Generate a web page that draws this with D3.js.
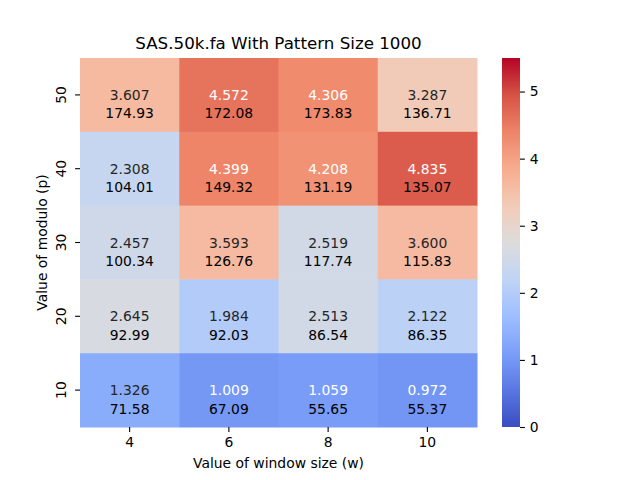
<!DOCTYPE html>
<html>
<head>
<meta charset="utf-8">
<script src="https://cdn.jsdelivr.net/npm/d3@7"></script>
<style>
  body { margin: 0; background: #fff; }
  text { font-family: "DejaVu Sans", sans-serif; }
</style>
</head>
<body>
<div id="chart"></div>
<script>
// data, rows top to bottom
var windowSizes = ["4", "6", "8", "10"];
var moduloValues = ["50", "40", "30", "20", "10"];
var ratioValues = [
    [3.607, 4.572, 4.306, 3.287],
    [2.308, 4.399, 4.208, 4.835],
    [2.457, 3.593, 2.519, 3.600],
    [2.645, 1.984, 2.513, 2.122],
    [1.326, 1.009, 1.059, 0.972]
];
var timeValues = [
    [174.93, 172.08, 173.83, 136.71],
    [104.01, 149.32, 131.19, 135.07],
    [100.34, 126.76, 117.74, 115.83],
    [92.99, 92.03, 86.54, 86.35],
    [71.58, 67.09, 55.65, 55.37]
];
var colorTicks = [0, 1, 2, 3, 4, 5];

var margin = {top: 58, left: 80},
    width = 397,
    height = 369;

var svg = d3.select("#chart").append("svg")
    .attr("width", 640)
    .attr("height", 480);

var g = svg.append("g")
    .attr("transform", "translate(" + margin.left + "," + margin.top + ")");

//coolwarm approximation
var coolwarm = d3.piecewise(d3.interpolateRgb, [
    "#3b4cc0", "#5977e3", "#7b9ff9", "#9ebeff", "#c0d4f5", "#dddcdc",
    "#f2cbb7", "#f7ac8e", "#ee8468", "#d65244", "#b40426"
]);
var color = d3.scaleSequential(coolwarm).domain([0, 5.5]);

var x = d3.scaleBand().domain(windowSizes).range([0, width]);
var y = d3.scaleBand().domain(moduloValues).range([0, height]);

function luminance(c) {
    var rgb = d3.rgb(c);
    var v = [rgb.r, rgb.g, rgb.b].map(function(d) {
        d = d / 255;
        return d <= 0.03928 ? d / 12.92 : Math.pow((d + 0.055) / 1.055, 2.4);
    });
    return 0.2126 * v[0] + 0.7152 * v[1] + 0.0722 * v[2];
}

var cells = [];
moduloValues.forEach(function(p, i) {
    windowSizes.forEach(function(w, j) {
        cells.push({p: p, w: w, v: ratioValues[i][j], t: timeValues[i][j]});
    });
});

var cell = g.selectAll(".cell")
    .data(cells)
    .enter().append("g")
    .attr("class", "cell");

cell.append("rect")
    .attr("x", function(d) { return x(d.w); })
    .attr("y", function(d) { return y(d.p); })
    .attr("width", x.bandwidth() + 0.5)
    .attr("height", y.bandwidth() + 0.5)
    .attr("fill", function(d) { return color(d.v); });

cell.append("text")
    .attr("x", function(d) { return x(d.w) + x.bandwidth() / 2; })
    .attr("y", function(d) { return y(d.p) + y.bandwidth() / 2; })
    .attr("dy", "0.36em")
    .attr("text-anchor", "middle")
    .attr("font-size", 13.9)
    .attr("fill", function(d) { return luminance(color(d.v)) > 0.408 ? "#262626" : "#fff"; })
    .text(function(d) { return d.v.toFixed(3); });

cell.append("text")
    .attr("x", function(d) { return x(d.w) + x.bandwidth() / 2; })
    .attr("y", function(d) { return y(d.p) + y.bandwidth() * 0.75; })
    .attr("dy", "0.36em")
    .attr("text-anchor", "middle")
    .attr("font-size", 13.9)
    .attr("fill", "#000")
    .text(function(d) { return d.t.toFixed(2); });

//axes
var xAxis = g.append("g")
    .attr("transform", "translate(0," + height + ")")
    .call(d3.axisBottom(x).tickSize(4.9).tickPadding(4.9));
xAxis.select(".domain").remove();
xAxis.selectAll("text").attr("font-size", 13.9).attr("fill", "#000").style("font-family", "DejaVu Sans");
xAxis.selectAll("line").attr("stroke", "#000").attr("stroke-width", 1.1);

var yAxis = g.append("g")
    .call(d3.axisLeft(y).tickSize(4.9).tickPadding(4.9));
yAxis.select(".domain").remove();
yAxis.selectAll("line").attr("stroke", "#000").attr("stroke-width", 1.1);
yAxis.selectAll("text")
    .attr("font-size", 13.9)
    .attr("fill", "#000")
    .style("font-family", "DejaVu Sans")
    .attr("text-anchor", "middle")
    .attr("dy", "0")
    .attr("x", 0)
    .attr("transform", "translate(-14,0) rotate(-90)");

g.append("text")
    .attr("x", width / 2)
    .attr("y", height + 41)
    .attr("text-anchor", "middle")
    .attr("font-size", 13.9)
    .text("Value of window size (w)");

g.append("text")
    .attr("transform", "translate(-33," + (height / 2) + ") rotate(-90)")
    .attr("text-anchor", "middle")
    .attr("font-size", 13.9)
    .text("Value of modulo (p)");

g.append("text")
    .attr("x", width / 2)
    .attr("y", -9)
    .attr("text-anchor", "middle")
    .attr("font-size", 16.7)
    .text("SAS.50k.fa With Pattern Size 1000");

//colorbar
var cbX = 502, cbW = 18;
var cy = d3.scaleLinear().domain([0, 5.5]).range([margin.top + height, margin.top]);

var defs = svg.append("defs");
var grad = defs.append("linearGradient")
    .attr("id", "cbgrad")
    .attr("x1", "0").attr("y1", "1").attr("x2", "0").attr("y2", "0");
grad.selectAll("stop")
    .data(d3.range(0, 1.0001, 0.05))
    .enter().append("stop")
    .attr("offset", function(d) { return d; })
    .attr("stop-color", function(d) { return color(d * 5.5); });

svg.append("rect")
    .attr("x", cbX)
    .attr("y", margin.top)
    .attr("width", cbW)
    .attr("height", height)
    .attr("fill", "url(#cbgrad)");

var cAxis = svg.append("g")
    .attr("transform", "translate(" + (cbX + cbW) + ",0)")
    .call(d3.axisRight(cy).tickValues(colorTicks).tickFormat(d3.format("d")).tickSize(4.9).tickPadding(4.9));
cAxis.select(".domain").remove();
cAxis.selectAll("line").attr("stroke", "#000").attr("stroke-width", 1.1);
cAxis.selectAll("text").attr("font-size", 13.9).attr("fill", "#000").style("font-family", "DejaVu Sans");
</script>
</body>
</html>
